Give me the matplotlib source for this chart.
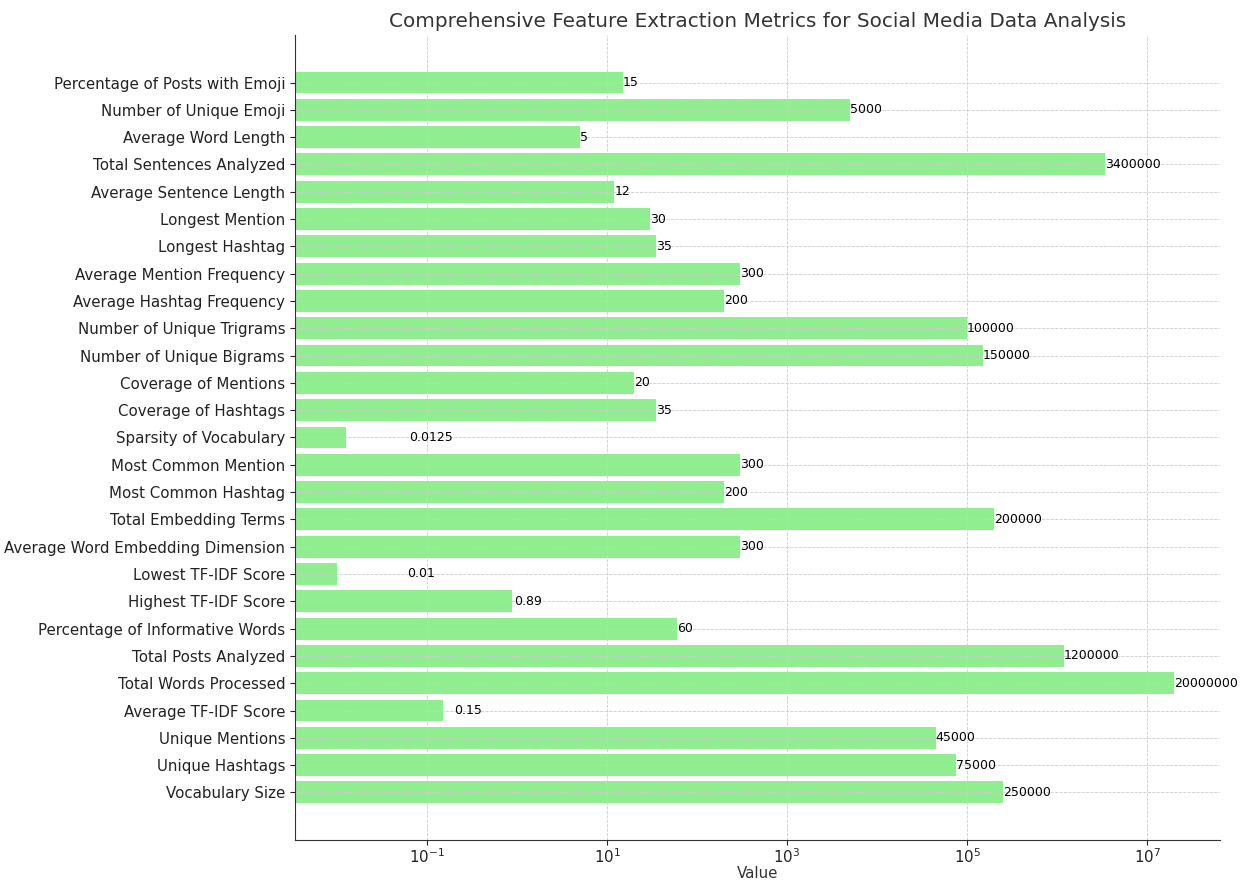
import matplotlib
matplotlib.use('Agg')
import matplotlib.pyplot as plt

# Metrics, listed bottom to top as they appear on the chart
metrics = [
    'Vocabulary Size', 'Unique Hashtags', 'Unique Mentions', 'Average TF-IDF Score',
    'Total Words Processed', 'Total Posts Analyzed', 'Percentage of Informative Words',
    'Highest TF-IDF Score', 'Lowest TF-IDF Score', 'Average Word Embedding Dimension',
    'Total Embedding Terms', 'Most Common Hashtag', 'Most Common Mention',
    'Sparsity of Vocabulary', 'Coverage of Hashtags', 'Coverage of Mentions',
    'Number of Unique Bigrams', 'Number of Unique Trigrams', 'Average Hashtag Frequency',
    'Average Mention Frequency', 'Longest Hashtag', 'Longest Mention',
    'Average Sentence Length', 'Total Sentences Analyzed', 'Average Word Length',
    'Number of Unique Emoji', 'Percentage of Posts with Emoji',
]
values = [
    250000, 75000, 45000, 0.15,
    20000000, 1200000, 60,
    0.89, 0.01, 300,
    200000, 200, 300,
    0.0125, 35, 20,
    150000, 100000, 200,
    300, 35, 30,
    12, 3400000, 5,
    5000, 15,
]
labels = [f'{v:g}' if v < 1 else f'{int(v)}' for v in values]

fig = plt.figure(figsize=(12.52, 8.86), dpi=100)
ax = fig.add_axes([0.2356, 0.052, 0.7388, 0.9085])

ax.barh(metrics, values, color='lightgreen')
ax.set_xscale('log')
ax.set_xlim(10 ** -2.467, 10 ** 7.81)

# value labels just past each bar end
for i, (v, lab) in enumerate(zip(values, labels)):
    ax.text(v + 0.05, i, lab, va='center', ha='left', fontsize=9, color='black')

ax.grid(True, color='#cccccc', linestyle='--', linewidth=0.6)
ax.spines['top'].set_visible(False)
ax.spines['right'].set_visible(False)
ax.spines['left'].set_color('#333333')
ax.spines['bottom'].set_color('#333333')
ax.tick_params(axis='y', labelsize=10.8, colors='#222222')
ax.tick_params(axis='x', labelsize=10.8, colors='#222222', pad=2)

ax.set_xlabel('Value', fontsize=10.8, color='#333333', labelpad=0)
ax.set_title('Comprehensive Feature Extraction Metrics for Social Media Data Analysis',
             fontsize=14.4, color='#333333', pad=6)

plt.savefig('out.png', dpi=100, facecolor='white')
plt.close()
